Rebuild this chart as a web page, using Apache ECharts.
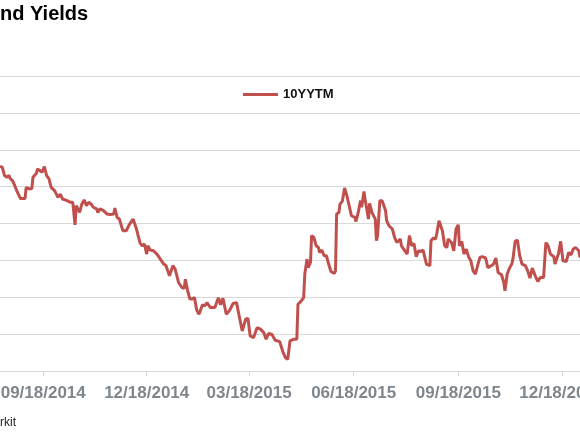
<!DOCTYPE html>
<html>
<head>
<meta charset="utf-8">
<script src="https://cdn.jsdelivr.net/npm/echarts@6/dist/echarts.min.js"></script>
<style>
html,body{margin:0;padding:0;background:#fff;}
#chart{width:580px;height:435px;}
</style>
</head>
<body>
<div id="chart"></div>
<script>
const titleText = 'nd Yields';
const sourceText = 'rkit';
const seriesName = '10YYTM';
const tickLabels = ['09/18/2014','12/18/2014','03/18/2015','06/18/2015','09/18/2015','12/18/2015'];
const dates = [
'2014-08-11','2014-08-13','2014-08-15','2014-08-17','2014-08-19','2014-08-20','2014-08-22','2014-08-24','2014-08-26','2014-08-29',
'2014-08-30','2014-09-02','2014-09-03','2014-09-05','2014-09-08','2014-09-09','2014-09-12','2014-09-13','2014-09-15','2014-09-17',
'2014-09-19','2014-09-21','2014-09-23','2014-09-25','2014-09-28','2014-10-01','2014-10-03','2014-10-05','2014-10-09','2014-10-12',
'2014-10-14','2014-10-16','2014-10-17','2014-10-20','2014-10-22','2014-10-24','2014-10-26','2014-10-28','2014-10-30','2014-11-01',
'2014-11-04','2014-11-05','2014-11-07','2014-11-10','2014-11-13','2014-11-16','2014-11-19','2014-11-20','2014-11-22','2014-11-24',
'2014-11-27','2014-11-30','2014-12-03','2014-12-06','2014-12-09','2014-12-12','2014-12-14','2014-12-16','2014-12-18','2014-12-19',
'2014-12-21','2014-12-24','2014-12-27','2014-12-30','2015-01-02','2015-01-04','2015-01-07','2015-01-10','2015-01-12','2015-01-15',
'2015-01-18','2015-01-20','2015-01-21','2015-01-23','2015-01-25','2015-01-27','2015-01-29','2015-01-31','2015-02-02','2015-02-05',
'2015-02-07','2015-02-09','2015-02-12','2015-02-13','2015-02-16','2015-02-19','2015-02-21','2015-02-23','2015-02-26','2015-03-01',
'2015-03-04','2015-03-07','2015-03-09','2015-03-12','2015-03-13','2015-03-15','2015-03-17','2015-03-19','2015-03-22','2015-03-25',
'2015-03-28','2015-03-31','2015-04-02','2015-04-04','2015-04-07','2015-04-10','2015-04-14','2015-04-17','2015-04-19','2015-04-21',
'2015-04-23','2015-04-26','2015-04-29','2015-04-30','2015-05-03','2015-05-05','2015-05-06','2015-05-08','2015-05-09','2015-05-11',
'2015-05-12','2015-05-14','2015-05-16','2015-05-18','2015-05-19','2015-05-21','2015-05-23','2015-05-25','2015-05-27','2015-05-29',
'2015-06-01','2015-06-02','2015-06-03','2015-06-05','2015-06-06','2015-06-08','2015-06-10','2015-06-12','2015-06-14','2015-06-16',
'2015-06-19','2015-06-20','2015-06-22','2015-06-24','2015-06-25','2015-06-27','2015-06-28','2015-06-29','2015-07-01','2015-07-02',
'2015-07-04','2015-07-07','2015-07-08','2015-07-09','2015-07-11','2015-07-13','2015-07-16','2015-07-17','2015-07-19','2015-07-22',
'2015-07-24','2015-07-26','2015-07-29','2015-07-30','2015-08-02','2015-08-04','2015-08-06','2015-08-08','2015-08-10','2015-08-12',
'2015-08-14','2015-08-16','2015-08-18','2015-08-21','2015-08-24','2015-08-25','2015-08-27','2015-08-29','2015-08-30','2015-09-01',
'2015-09-04','2015-09-06','2015-09-08','2015-09-09','2015-09-12','2015-09-14','2015-09-16','2015-09-18','2015-09-19','2015-09-21',
'2015-09-23','2015-09-25','2015-09-27','2015-09-29','2015-10-01','2015-10-03','2015-10-05','2015-10-07','2015-10-09','2015-10-12',
'2015-10-14','2015-10-17','2015-10-19','2015-10-21','2015-10-23','2015-10-26','2015-10-28','2015-10-29','2015-10-31','2015-11-02',
'2015-11-04','2015-11-05','2015-11-07','2015-11-09','2015-11-11','2015-11-13','2015-11-16','2015-11-18','2015-11-20','2015-11-22',
'2015-11-25','2015-11-27','2015-11-29','2015-12-02','2015-12-04','2015-12-06','2015-12-08','2015-12-11','2015-12-12','2015-12-15',
'2015-12-17','2015-12-19','2015-12-22','2015-12-24','2015-12-26','2015-12-28','2015-12-30','2016-01-02','2016-01-03'
];
const yields = [
1.109,1.105,1.060,1.051,1.060,1.043,1.033,1.005,0.974,0.935,
0.929,0.935,0.996,0.989,0.989,1.051,1.072,1.096,1.087,1.078,
1.109,1.060,1.043,0.996,0.978,0.942,0.960,0.933,0.924,0.915,
0.915,0.793,0.897,0.860,0.906,0.928,0.897,0.915,0.906,0.888,
0.879,0.860,0.879,0.870,0.852,0.848,0.852,0.884,0.833,0.824,
0.761,0.761,0.797,0.824,0.770,0.697,0.679,0.689,0.634,0.679,
0.656,0.652,0.634,0.607,0.580,0.571,0.516,0.571,0.553,0.480,
0.453,0.449,0.498,0.435,0.390,0.390,0.398,0.330,0.308,0.359,
0.353,0.371,0.344,0.341,0.344,0.398,0.359,0.395,0.308,0.330,
0.366,0.371,0.308,0.217,0.208,0.281,0.286,0.190,0.181,0.235,
0.227,0.208,0.172,0.203,0.199,0.167,0.159,0.099,0.072,0.064,
0.163,0.172,0.172,0.362,0.380,0.398,0.526,0.607,0.561,0.589,
0.734,0.724,0.679,0.670,0.643,0.656,0.625,0.625,0.580,0.540,
0.529,0.543,0.852,0.860,0.906,0.920,0.993,0.951,0.897,0.842,
0.833,0.811,0.860,0.924,0.888,0.974,0.933,0.897,0.824,0.909,
0.860,0.824,0.707,0.734,0.924,0.924,0.870,0.815,0.788,0.770,
0.724,0.697,0.716,0.679,0.652,0.634,0.734,0.679,0.692,0.620,
0.652,0.648,0.656,0.580,0.571,0.707,0.721,0.716,0.743,0.815,
0.761,0.679,0.670,0.716,0.697,0.652,0.770,0.793,0.679,0.703,
0.634,0.661,0.620,0.598,0.543,0.526,0.571,0.616,0.620,0.613,
0.561,0.571,0.580,0.613,0.534,0.522,0.480,0.435,0.526,0.558,
0.580,0.607,0.703,0.710,0.625,0.580,0.571,0.543,0.504,0.558,
0.511,0.485,0.507,0.507,0.697,0.679,0.634,0.620,0.580,0.634,
0.703,0.598,0.594,0.643,0.630,0.661,0.670,0.652,0.616
];
const xMin = '2014-08-11';
const xMax = '2016-01-03';

function parseISO(s){ const p = s.split('-'); return Date.UTC(+p[0], +p[1]-1, +p[2]); }
function parseMDY(s){ const p = s.split('/'); return Date.UTC(+p[2], +p[0]-1, +p[1]); }
function pad(n){ return (n<10?'0':'')+n; }
const tickValues = tickLabels.map(parseMDY);

const chart = echarts.init(document.getElementById('chart'), null, {renderer:'canvas'});
chart.setOption({
  animation:false,
  backgroundColor:'#ffffff',
  textStyle:{fontFamily:'Liberation Sans, Arial, sans-serif'},
  title:[
    {text:titleText,left:0,top:4,padding:0,textStyle:{fontSize:20,fontWeight:'bold',color:'#000',fontFamily:'Liberation Sans, Arial, sans-serif'}},
    {text:sourceText,left:0,top:417,padding:0,textStyle:{fontSize:12,fontWeight:'normal',color:'#222',fontFamily:'Liberation Sans, Arial, sans-serif'}}
  ],
  legend:{
    data:[seriesName],left:243,top:88,padding:0,icon:'rect',itemWidth:35,itemHeight:3,itemGap:5,
    textStyle:{fontSize:13,fontWeight:'bold',color:'#111',fontFamily:'Liberation Sans, Arial, sans-serif'}
  },
  grid:{left:0,right:0,top:76,bottom:64,containLabel:false,outerBoundsMode:'none'},
  xAxis:{
    type:'value',min:parseISO(xMin),max:parseISO(xMax),
    axisLine:{show:true,onZero:false,lineStyle:{color:'#d9d9d9',width:1}},
    axisTick:{show:true,customValues:tickValues,length:5,lineStyle:{color:'#d9d9d9'}},
    axisLabel:{
      customValues:tickValues,margin:14,fontSize:17,fontWeight:'bold',color:'#7f878e',
      fontFamily:'Liberation Sans, Arial, sans-serif',hideOverlap:false,
      formatter:function(v){const d=new Date(v);return pad(d.getUTCMonth()+1)+'/'+pad(d.getUTCDate())+'/'+d.getUTCFullYear();}
    },
    splitLine:{show:false}
  },
  yAxis:{
    type:'value',min:0,max:1.6,interval:0.2,
    axisLine:{show:false},axisTick:{show:false},axisLabel:{show:false},
    splitLine:{show:true,lineStyle:{color:'#d9d9d9',width:1}}
  },
  series:[{
    name:seriesName,type:'line',symbol:'none',
    data:dates.map((d,i)=>[parseISO(d),yields[i]]),
    lineStyle:{color:'#c0504d',width:3},itemStyle:{color:'#c0504d'}
  }]
});
</script>
</body>
</html>
